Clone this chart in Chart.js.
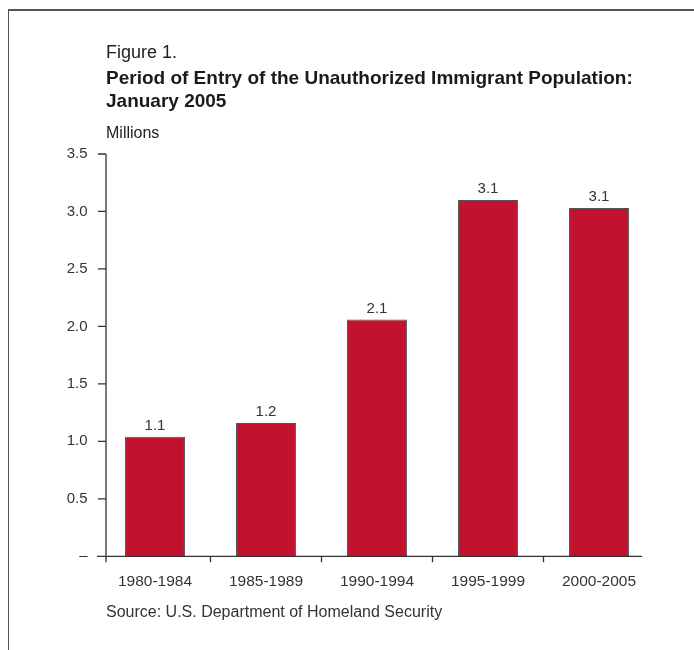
<!DOCTYPE html>
<html>
<head>
<meta charset="utf-8">
<script src="https://cdn.jsdelivr.net/npm/chart.js@4.4.1/dist/chart.umd.min.js"></script>
<style>
  body { margin: 0; background: #fff; font-family: "Liberation Sans", Arial, sans-serif; color: #222; }
  #wrap { position: relative; width: 694px; height: 650px; overflow: hidden; }
  #frame { position: absolute; left: 8px; top: 9px; width: 700px; height: 660px; border-left: 1.5px solid #555; border-top: 2px solid #555; }
  .txt { position: absolute; left: 106px; white-space: nowrap; }
  #fig { top: 43px; font-size: 18px; line-height: 18px; color: #222; }
  #ttl { top: 66px; font-size: 19px; line-height: 23px; font-weight: bold; color: #1a1a1a; }
  #unit { top: 124.5px; font-size: 16px; line-height: 16px; color: #222; }
  #src { top: 603.5px; font-size: 16px; line-height: 16px; color: #333; }
  #box { position: absolute; left: 0; top: 0; width: 694px; height: 650px; }
</style>
</head>
<body>
<div id="wrap">
  <div id="frame"></div>
  <div id="box"><canvas id="canvas1"></canvas></div>
  <div class="txt" id="fig">Figure 1.</div>
  <div class="txt" id="ttl">Period of Entry of the Unauthorized Immigrant Population:<br>January 2005</div>
  <div class="txt" id="unit">Millions</div>
  <div class="txt" id="src">Source: U.S. Department of Homeland Security</div>
</div>
<script>
// Period of entry, unauthorized immigrants (millions)
var periods = ['1980-1984', '1985-1989', '1990-1994', '1995-1999', '2000-2005'];
var millions = [1.04, 1.16, 2.06, 3.10, 3.03];
var valueLabels = ['1.1', '1.2', '2.1', '3.1', '3.1'];
var yTicks = [0, 0.5, 1.0, 1.5, 2.0, 2.5, 3.0, 3.5];

var fontFamily = '"Liberation Sans", Arial, sans-serif';

// axis lines, tick marks and value labels drawn like the printed figure
var axesPlugin = {
    id: 'axesPlugin',
    afterDatasetsDraw: function (chart) {
        var ctx = chart.ctx;
        var area = chart.chartArea;
        var x = chart.scales.x, y = chart.scales.y;
        var axisX = area.left + 6.5;
        var axisEnd = area.right - 12.5;
        var y0 = y.getPixelForValue(0);

        ctx.save();
        ctx.strokeStyle = '#333';
        ctx.lineWidth = 1.3;
        ctx.beginPath();
        // y axis
        ctx.moveTo(axisX, y.getPixelForValue(3.5));
        ctx.lineTo(axisX, y0 + 6);
        // x axis
        ctx.moveTo(axisX - 9, y0);
        ctx.lineTo(axisEnd, y0);
        // y tick marks
        yTicks.forEach(function (v) {
            var py = y.getPixelForValue(v);
            ctx.moveTo(axisX - 8, py);
            ctx.lineTo(axisX, py);
        });
        // x tick marks between categories
        for (var i = 0; i < periods.length - 1; i++) {
            var px = (x.getPixelForValue(i) + x.getPixelForValue(i + 1)) / 2;
            ctx.moveTo(px, y0);
            ctx.lineTo(px, y0 + 6);
        }
        ctx.stroke();

        // value labels
        ctx.fillStyle = '#333';
        ctx.font = '15px ' + fontFamily;
        ctx.textAlign = 'center';
        ctx.textBaseline = 'alphabetic';
        chart.getDatasetMeta(0).data.forEach(function (bar, idx) {
            ctx.fillText(valueLabels[idx], bar.x, bar.y - 7);
        });
        ctx.restore();
    }
};

var ctx1 = document.getElementById('canvas1').getContext('2d');
window.myBar = new Chart(ctx1, {
    type: 'bar',
    data: {
        labels: periods,
        datasets: [{
            data: millions,
            backgroundColor: '#C1122F',
            borderColor: '#555',
            borderWidth: 1,
            borderSkipped: 'bottom',
            barPercentage: 0.54,
            categoryPercentage: 1.0
        }]
    },
    options: {
        responsive: true,
        maintainAspectRatio: false,
        animation: false,
        layout: { padding: { top: 154, right: 39.5, left: 0, bottom: 0 } },
        plugins: {
            legend: { display: false },
            title: { display: false },
            tooltip: { enabled: false }
        },
        scales: {
            x: {
                grid: { display: false, drawTicks: false },
                border: { display: false },
                ticks: { color: '#333', font: { family: fontFamily, size: 15.5 }, padding: 16, maxRotation: 0 },
                afterFit: function (scale) { scale.height = 93.7; }
            },
            y: {
                min: 0,
                max: 3.5,
                grid: { display: false, drawTicks: false },
                border: { display: false },
                afterBuildTicks: function (scale) {
                    scale.ticks = yTicks.map(function (v) { return { value: v }; });
                },
                ticks: {
                    color: '#333',
                    font: { family: fontFamily, size: 15 },
                    padding: 12,
                    callback: function (v) { return v === 0 ? '\u2013' : v.toFixed(1); }
                },
                afterFit: function (scale) { scale.width = 99.5; }
            }
        }
    },
    plugins: [axesPlugin]
});
</script>
</body>
</html>
